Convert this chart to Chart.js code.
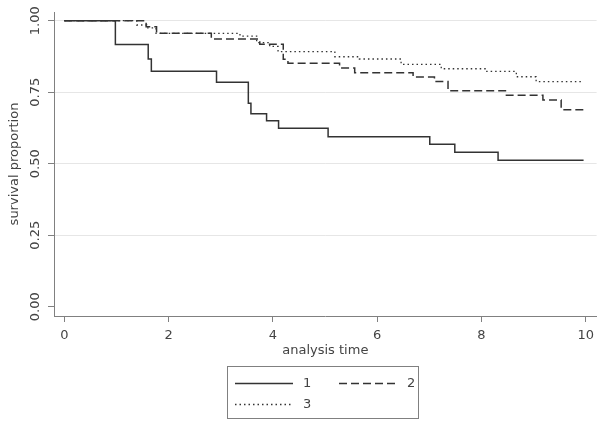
<!DOCTYPE html>
<html>
<head>
<meta charset="utf-8">
<script src="https://cdn.jsdelivr.net/npm/chart.js@4/dist/chart.umd.min.js"></script>
<style>
  body { margin: 0; background: #fff; }
</style>
</head>
<body>
<canvas id="km" width="600" height="422"></canvas>
<script>
const xTicks = [0, 2, 4, 6, 8, 10];
const yTicks = [0, 0.25, 0.5, 0.75, 1];
const groupNames = ["1", "2", "3"];

// step times and survival after each step
const time1 = [0, 0.98, 1.61, 1.67, 2.92, 3.53, 3.58, 3.88, 4.11, 5.06, 7.01, 7.49, 8.32, 9.96];
const surv1 = [1, 0.917, 0.866, 0.823, 0.785, 0.711, 0.675, 0.65, 0.624, 0.594, 0.568, 0.54, 0.512, 0.512];

const time2 = [0, 1.57, 1.77, 2.82, 3.75, 4.2, 4.29, 5.28, 5.57, 6.69, 7.1, 7.36, 8.48, 9.18, 9.53, 9.96];
const surv2 = [1, 0.979, 0.956, 0.936, 0.918, 0.865, 0.851, 0.835, 0.818, 0.803, 0.787, 0.755, 0.739, 0.723, 0.689, 0.689];

const time3 = [0, 1.39, 1.58, 1.76, 3.37, 3.69, 3.94, 4.1, 5.19, 5.66, 6.46, 7.23, 8.09, 8.67, 9.05, 9.96];
const surv3 = [1, 0.985, 0.975, 0.956, 0.946, 0.923, 0.91, 0.892, 0.874, 0.866, 0.847, 0.832, 0.823, 0.804, 0.787, 0.787];

const lineColor = "#333";
const axisColor = "#808080";
const textColor = "#444";
const fontFamily = "'DejaVu Sans', sans-serif";

function toPoints(ts, ss) {
  return ts.map((t, i) => ({ x: t, y: ss[i] }));
}

// y tick labels rotated like the original, plus the boxed legend
const extras = {
  id: "extras",
  afterDraw(chart) {
    const ctx = chart.ctx;
    const yScale = chart.scales.y;
    ctx.save();
    ctx.fillStyle = textColor;
    ctx.font = "13px " + fontFamily;
    ctx.textAlign = "center";
    ctx.textBaseline = "middle";
    yTicks.forEach((v) => {
      ctx.save();
      ctx.translate(36, yScale.getPixelForValue(v));
      ctx.rotate(-Math.PI / 2);
      ctx.fillText(v.toFixed(2), 0, 0);
      ctx.restore();
    });

    ctx.strokeStyle = axisColor;
    ctx.lineWidth = 1;
    ctx.strokeRect(227.5, 366.5, 191, 52);

    const spots = [[235, 383], [339, 383], [235, 404]];
    ctx.textAlign = "left";
    chart.data.datasets.forEach((ds, i) => {
      const [x, y] = spots[i];
      ctx.beginPath();
      ctx.setLineDash(ds.borderDash || []);
      ctx.strokeStyle = ds.borderColor;
      ctx.lineWidth = ds.borderWidth;
      ctx.moveTo(x, y + 0.5);
      ctx.lineTo(x + 58, y + 0.5);
      ctx.stroke();
      ctx.setLineDash([]);
      ctx.fillText(ds.label, x + 68, y + 1);
    });
    ctx.restore();
  },
};

new Chart(document.getElementById("km"), {
  type: "line",
  data: {
    datasets: [
      {
        label: groupNames[0],
        data: toPoints(time1, surv1),
        borderColor: lineColor,
        borderWidth: 1.5,
        stepped: "before",
        pointRadius: 0,
        fill: false,
      },
      {
        label: groupNames[1],
        data: toPoints(time2, surv2),
        borderColor: lineColor,
        borderWidth: 1.5,
        borderDash: [8, 4],
        stepped: "before",
        pointRadius: 0,
        fill: false,
      },
      {
        label: groupNames[2],
        data: toPoints(time3, surv3),
        borderColor: lineColor,
        borderWidth: 1.3,
        borderDash: [1.5, 3],
        stepped: "before",
        pointRadius: 0,
        fill: false,
      },
    ],
  },
  options: {
    responsive: false,
    animation: false,
    layout: { padding: { top: 12, right: 3, bottom: 62, left: 0 } },
    plugins: {
      legend: { display: false },
      tooltip: { enabled: false },
    },
    scales: {
      x: {
        type: "linear",
        min: -0.197,
        max: 10.21,
        afterBuildTicks: (s) => { s.ticks = xTicks.map((v) => ({ value: v })); },
        afterFit: (s) => { s.height = 44; },
        border: { display: true, color: axisColor, width: 1 },
        grid: { drawOnChartArea: false, drawTicks: true, tickLength: 6, tickColor: axisColor },
        ticks: {
          color: textColor,
          font: { family: fontFamily, size: 13 },
          padding: 6,
          maxRotation: 0,
          callback: (v) => v,
        },
        title: {
          display: true,
          text: "analysis time",
          color: textColor,
          font: { family: fontFamily, size: 13 },
          padding: { top: 0, bottom: 2 },
        },
      },
      y: {
        min: -0.0325,
        max: 1.0304,
        afterBuildTicks: (s) => { s.ticks = yTicks.map((v) => ({ value: v })); },
        afterFit: (s) => { s.width = 54; },
        border: { display: true, color: axisColor, width: 1 },
        grid: {
          drawTicks: true,
          tickLength: 6,
          tickColor: axisColor,
          color: (c) => (c.tick && c.tick.value === 0 ? "rgba(0,0,0,0)" : "#e6e6e6"),
        },
        ticks: { display: false },
        title: {
          display: true,
          text: "survival proportion",
          color: textColor,
          font: { family: fontFamily, size: 13 },
          padding: { top: 7, bottom: 0 },
        },
      },
    },
  },
  plugins: [extras],
});
</script>
</body>
</html>
